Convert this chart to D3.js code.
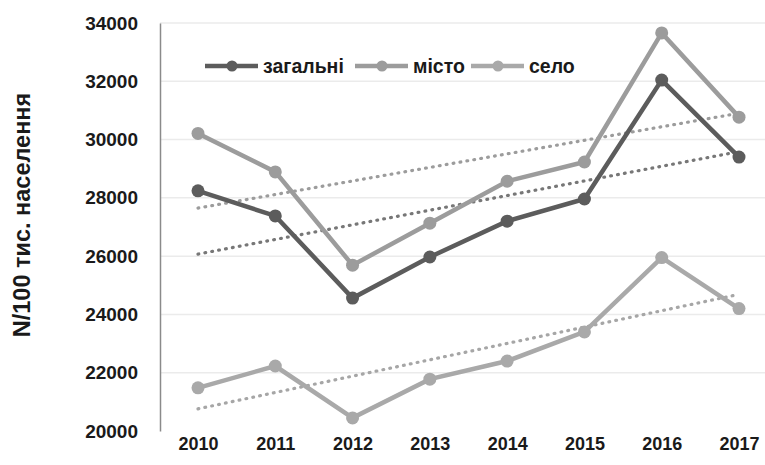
<!DOCTYPE html>
<html>
<head>
<meta charset="utf-8">
<script src="https://cdn.jsdelivr.net/npm/d3@7"></script>
<style>
  body { margin: 0; background: #fff; }
  text { font-family: "Liberation Sans", Arial, sans-serif; }
</style>
</head>
<body>
<script>
let years = [2010, 2011, 2012, 2013, 2014, 2015, 2016, 2017];
let zahalni = [28240, 27380, 24560, 25970, 27200, 27960, 32040, 29400];
let misto = [30210, 28890, 25690, 27130, 28570, 29230, 33660, 30770];
let selo = [21480, 22230, 20450, 21780, 22400, 23400, 25950, 24200];
// trend line ends
let zahalniTrend = [26070, 29560];
let mistoTrend = [27650, 30880];
let seloTrend = [20760, 24660];
let yTicks = [20000, 22000, 24000, 26000, 28000, 30000, 32000, 34000];

let svg = d3.select('body')
  .append('svg')
  .attr('width', 765)
  .attr('height', 465);

let x = d3.scalePoint().domain(years).range([198, 739]);
let y = d3.scaleLinear().domain([20000, 34000]).range([431, 23]);

let series = [
  {name: 'загальні', values: zahalni, trend: zahalniTrend, color: '#5c5c5c', trendColor: '#777777'},
  {name: 'місто', values: misto, trend: mistoTrend, color: '#9c9c9c', trendColor: '#9c9c9c'},
  {name: 'село', values: selo, trend: seloTrend, color: '#a9a9a9', trendColor: '#a6a6a6'}
];

// gridlines
svg.append('g')
  .selectAll('line').data(yTicks.slice(1))
  .enter().append('line')
  .attr('x1', 160).attr('x2', 765)
  .attr('y1', d => y(d)).attr('y2', d => y(d))
  .attr('stroke', '#ebebeb')
  .attr('stroke-width', 1.5);

// y axis
let yAxis = svg.append('g')
  .attr('transform', 'translate(160,0)')
  .call(d3.axisLeft(y).tickValues(yTicks).tickFormat(d3.format('d')).tickSize(0).tickPadding(22));
yAxis.select('.domain').attr('stroke', '#8a8a8a').attr('stroke-width', 1.5);
yAxis.selectAll('text')
  .attr('font-size', 19).attr('font-weight', 'bold').attr('fill', '#1a1a1a')
  .style('font-family', '"Liberation Sans", Arial, sans-serif');

// x axis
let xAxis = svg.append('g')
  .attr('transform', 'translate(0,431)')
  .call(d3.axisBottom(x).tickSize(0).tickPadding(6).tickFormat(d3.format('d')));
xAxis.select('.domain').remove();
xAxis.selectAll('text')
  .attr('font-size', 18).attr('font-weight', 'bold').attr('fill', '#1a1a1a')
  .style('font-family', '"Liberation Sans", Arial, sans-serif');

// y title
svg.append('text')
  .attr('transform', 'translate(30,215) rotate(-90)')
  .attr('text-anchor', 'middle')
  .attr('font-size', 23.5)
  .attr('font-weight', 'bold')
  .attr('fill', '#1a1a1a')
  .text('N/100 тис. населення');

// trend lines
let ends = [years[0], years[years.length - 1]];
series.forEach(s => {
  svg.append('line')
    .attr('x1', x(ends[0])).attr('y1', y(s.trend[0]))
    .attr('x2', x(ends[1]) - 4).attr('y2', y(s.trend[1]))
    .attr('stroke', s.trendColor)
    .attr('stroke-width', 3.2)
    .attr('stroke-linecap', 'round')
    .attr('stroke-dasharray', '0.8 6.2');
});

// data lines
let line = d3.line()
  .x((d, i) => x(years[i]))
  .y(d => y(d));

series.slice().reverse().forEach(s => {
  svg.append('path')
    .attr('d', line(s.values))
    .attr('fill', 'none')
    .attr('stroke', s.color)
    .attr('stroke-width', 4.5);
  svg.append('g').selectAll('circle').data(s.values)
    .enter().append('circle')
    .attr('cx', (d, i) => x(years[i]))
    .attr('cy', d => y(d))
    .attr('r', 6.5)
    .attr('fill', s.color);
});

// legend
let legendX = [205, 355, 471];
let legend = svg.append('g');
series.forEach((s, i) => {
  let g = legend.append('g').attr('transform', `translate(${legendX[i]},66)`);
  g.append('line')
    .attr('x1', 0).attr('x2', 53)
    .attr('stroke', s.color).attr('stroke-width', 4.5);
  g.append('circle').attr('cx', 27).attr('r', 5.5).attr('fill', s.color);
  g.append('text')
    .attr('x', 58).attr('y', 6.5)
    .attr('font-size', 19.5)
    .attr('font-weight', 'bold')
    .attr('fill', '#1a1a1a')
    .text(s.name);
});
</script>
</body>
</html>
